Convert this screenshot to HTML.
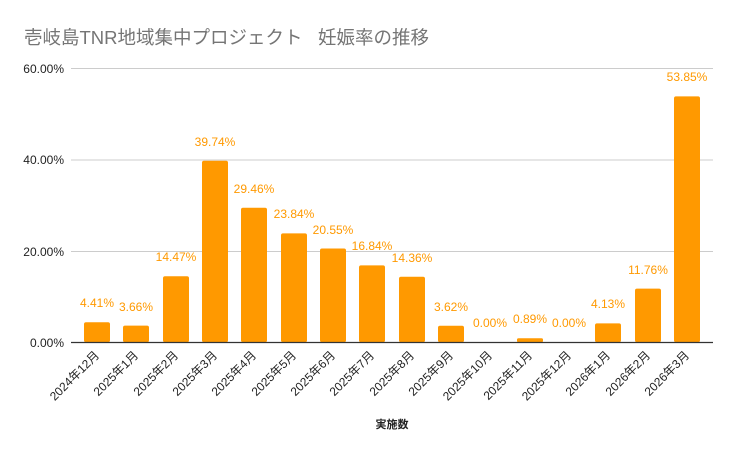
<!DOCTYPE html>
<html><head><meta charset="utf-8"><style>
html,body{margin:0;padding:0;background:#fff;}
svg{display:block;font-family:"Liberation Sans","Noto Sans CJK JP",sans-serif;}
</style></head><body>
<svg width="735" height="455" viewBox="0 0 735 455" xmlns="http://www.w3.org/2000/svg">
<rect width="735" height="455" fill="#fff"/>
<text x="24" y="44" font-size="18.5" fill="#757575">壱岐島TNR地域集中プロジェクト</text>
<text x="318" y="44" font-size="18.5" fill="#757575">妊娠率の推移</text>
<g stroke="#cccccc" stroke-width="1">
<line x1="71" y1="68.5" x2="713" y2="68.5"/>
<line x1="71" y1="160" x2="713" y2="160"/>
<line x1="71" y1="251.5" x2="713" y2="251.5"/>
</g>
<g font-size="12" fill="#222" text-anchor="end">
<text x="64" y="73">60.00%</text>
<text x="64" y="164">40.00%</text>
<text x="64" y="256">20.00%</text>
<text x="64" y="347">0.00%</text>
</g>
<g fill="#ff9900">
<rect x="84" y="322.2" width="26" height="20.1" rx="2"/>
<rect x="123" y="325.6" width="26" height="16.7" rx="2"/>
<rect x="163" y="276.2" width="26" height="66.1" rx="2"/>
<rect x="202" y="160.8" width="26" height="181.5" rx="2"/>
<rect x="241" y="207.8" width="26" height="134.5" rx="2"/>
<rect x="281" y="233.4" width="26" height="108.9" rx="2"/>
<rect x="320" y="248.5" width="26" height="93.8" rx="2"/>
<rect x="359" y="265.4" width="26" height="76.9" rx="2"/>
<rect x="399" y="276.7" width="26" height="65.6" rx="2"/>
<rect x="438" y="325.8" width="26" height="16.5" rx="2"/>
<rect x="517" y="338.2" width="26" height="4.1" rx="1.5"/>
<rect x="595" y="323.4" width="26" height="18.9" rx="2"/>
<rect x="635" y="288.6" width="26" height="53.7" rx="2"/>
<rect x="674" y="96.4" width="26" height="245.9" rx="2"/>
</g>
<g font-size="12" fill="#ff9900" text-anchor="middle">
<text x="97" y="307">4.41%</text>
<text x="136" y="311">3.66%</text>
<text x="176" y="261">14.47%</text>
<text x="215" y="146">39.74%</text>
<text x="254" y="193">29.46%</text>
<text x="294" y="218">23.84%</text>
<text x="333" y="234">20.55%</text>
<text x="372" y="250">16.84%</text>
<text x="412" y="262">14.36%</text>
<text x="451" y="311">3.62%</text>
<text x="490" y="327">0.00%</text>
<text x="530" y="323">0.89%</text>
<text x="569" y="327">0.00%</text>
<text x="608" y="308">4.13%</text>
<text x="648" y="274">11.76%</text>
<text x="687" y="81">53.85%</text>
</g>
<line x1="71" y1="342.5" x2="713" y2="342.5" stroke="#333" stroke-width="1.2"/>
<g font-size="12" fill="#222" text-anchor="end">
<text transform="translate(100,356) rotate(-45)">2024年12月</text>
<text transform="translate(139,356) rotate(-45)">2025年1月</text>
<text transform="translate(179,356) rotate(-45)">2025年2月</text>
<text transform="translate(218,356) rotate(-45)">2025年3月</text>
<text transform="translate(257,356) rotate(-45)">2025年4月</text>
<text transform="translate(297,356) rotate(-45)">2025年5月</text>
<text transform="translate(336,356) rotate(-45)">2025年6月</text>
<text transform="translate(375,356) rotate(-45)">2025年7月</text>
<text transform="translate(415,356) rotate(-45)">2025年8月</text>
<text transform="translate(454,356) rotate(-45)">2025年9月</text>
<text transform="translate(493,356) rotate(-45)">2025年10月</text>
<text transform="translate(533,356) rotate(-45)">2025年11月</text>
<text transform="translate(572,356) rotate(-45)">2025年12月</text>
<text transform="translate(611,356) rotate(-45)">2026年1月</text>
<text transform="translate(651,356) rotate(-45)">2026年2月</text>
<text transform="translate(690,356) rotate(-45)">2026年3月</text>
</g>
<text x="392" y="428" font-size="11" font-weight="bold" fill="#222" text-anchor="middle">実施数</text>
</svg>
</body></html>
